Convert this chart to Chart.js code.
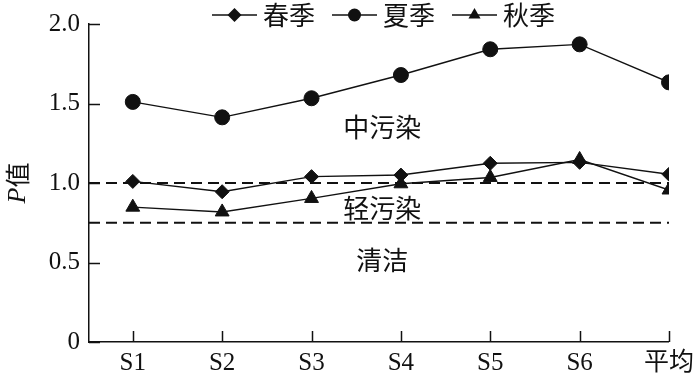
<!DOCTYPE html>
<html><head><meta charset="utf-8">
<script src="https://cdn.jsdelivr.net/npm/chart.js@4"></script>
<style>html,body{margin:0;padding:0;background:#fff}#wrap{width:700px;height:379px}</style>
</head><body><div id="wrap"><canvas id="c" width="700" height="379"></canvas></div>
<script>
const categories = ['S1', 'S2', 'S3', 'S4', 'S5', 'S6', '平均'];
const spring = [1.01, 0.945, 1.04, 1.05, 1.124, 1.13, 1.055];
const summer = [1.51, 1.413, 1.533, 1.679, 1.841, 1.872, 1.633];
const autumn = [0.848, 0.818, 0.903, 0.995, 1.035, 1.148, 0.956];
const seriesNames = ['春季', '夏季', '秋季'];
const thresholds = [1.0, 0.75];
const zoneLabels = ['中污染', '轻污染', '清洁'];
const zoneValues = [1.35, 0.845, 0.515];
const zoneX = 2.79;
const yTicks = [0, 0.5, 1.0, 1.5, 2.0];

const X_MIN = -0.49, X_MAX = categories.length - 1;
const INK = '#111';
const serif = "'Liberation Serif', 'Noto Sans CJK SC', serif";
const cjk = "'Noto Sans CJK SC', sans-serif";

const toPts = arr => arr.map((v, i) => ({x: i, y: v}));
const styles = [
  {pointStyle: 'rectRot', radius: 7},
  {pointStyle: 'circle', radius: 7.5},
  {pointStyle: 'triangle', radius: 8}
];
const seriesData = [spring, summer, autumn];

const datasets = [];
thresholds.forEach(t => datasets.push({
  label: 'th' + t, data: [{x: X_MIN, y: t}, {x: X_MAX, y: t}],
  borderColor: INK, borderWidth: 2, borderDash: [11, 6], pointRadius: 0, order: 5, isRef: true
}));
seriesData.forEach((d, i) => datasets.push({
  label: seriesNames[i], data: toPts(d),
  borderColor: INK, borderWidth: 1.4, backgroundColor: INK,
  pointStyle: styles[i].pointStyle, pointRadius: styles[i].radius,
  pointBackgroundColor: INK, pointBorderColor: INK, pointBorderWidth: 1,
  tension: 0, order: 1
}));

function drawMarker(ctx, style, cx, cy, r) {
  ctx.beginPath();
  if (style === 'rectRot') {
    ctx.moveTo(cx, cy - r); ctx.lineTo(cx + r, cy); ctx.lineTo(cx, cy + r); ctx.lineTo(cx - r, cy);
  } else if (style === 'circle') {
    ctx.arc(cx, cy, r, 0, Math.PI * 2);
  } else {
    ctx.moveTo(cx, cy - r); ctx.lineTo(cx + r * 0.866, cy + r * 0.5); ctx.lineTo(cx - r * 0.866, cy + r * 0.5);
  }
  ctx.closePath(); ctx.fill();
}

const decor = {
  id: 'decor',
  afterDatasetsDraw(chart) {
    const ctx = chart.ctx, xs = chart.scales.x, ys = chart.scales.y, area = chart.chartArea;
    ctx.save();
    // inward tick marks
    ctx.strokeStyle = INK; ctx.lineWidth = 1.5;
    ctx.beginPath();
    yTicks.forEach(v => { const p = Math.round(ys.getPixelForValue(v)) + 0.5; ctx.moveTo(area.left, p); ctx.lineTo(area.left + 11, p); });
    categories.forEach((c, i) => { const p = Math.round(xs.getPixelForValue(i)) + 0.5; ctx.moveTo(p, area.bottom); ctx.lineTo(p, area.bottom - 11); });
    ctx.stroke();
    // zone labels
    ctx.fillStyle = INK; ctx.font = '26px ' + cjk; ctx.textAlign = 'center'; ctx.textBaseline = 'middle';
    zoneLabels.forEach((t, i) => ctx.fillText(t, xs.getPixelForValue(zoneX), ys.getPixelForValue(zoneValues[i])));
    // y title  P值
    ctx.save();
    ctx.translate(17, (area.top + area.bottom) / 2);
    ctx.rotate(-Math.PI / 2);
    ctx.textAlign = 'left'; ctx.textBaseline = 'middle';
    const fP = 'italic 26px ' + serif, fV = '25px ' + cjk;
    ctx.font = fP; const wP = ctx.measureText('P').width;
    ctx.font = fV; const wV = ctx.measureText('值').width;
    const start = -(wP + wV) / 2;
    ctx.font = fP; ctx.fillText('P', start, 1);
    ctx.font = fV; ctx.fillText('值', start + wP, 0);
    ctx.restore();
    // legend
    let lx = 212; const ly = 15;
    const series = chart.data.datasets.filter(d => !d.isRef);
    ctx.textAlign = 'left'; ctx.textBaseline = 'middle'; ctx.font = '26px ' + cjk;
    series.forEach((ds, i) => {
      ctx.strokeStyle = INK; ctx.lineWidth = 1.4;
      ctx.beginPath(); ctx.moveTo(lx, ly); ctx.lineTo(lx + 45, ly); ctx.stroke();
      ctx.fillStyle = INK;
      drawMarker(ctx, ds.pointStyle, lx + 22.5, ly, ds.pointStyle === 'circle' ? 6.5 : 7);
      ctx.fillText(ds.label, lx + 51, ly);
      lx += 51 + ctx.measureText(ds.label).width + 17;
    });
    ctx.restore();
  }
};

new Chart(document.getElementById('c'), {
  type: 'line',
  data: {datasets},
  options: {
    responsive: false, animation: false, devicePixelRatio: 1,
    layout: {padding: {top: 24, right: 28, left: 0, bottom: 0}},
    plugins: {legend: {display: false}, tooltip: {enabled: false}},
    scales: {
      x: {
        type: 'linear', min: X_MIN, max: X_MAX,
        afterBuildTicks: s => { s.ticks = categories.map((c, i) => ({value: i})); },
        afterFit: s => { s.height = 37; },
        ticks: {callback: v => categories[v], autoSkip: false, maxRotation: 0, color: INK, font: {family: serif, size: 25}, padding: 6},
        grid: {drawOnChartArea: false, drawTicks: false, tickLength: 0},
        border: {display: true, color: INK, width: 1.5}
      },
      y: {
        type: 'linear', min: 0, max: 2,
        afterBuildTicks: s => { s.ticks = yTicks.map(v => ({value: v})); },
        afterFit: s => { s.width = 89; },
        ticks: {callback: v => v === 0 ? '0' : v.toFixed(1), color: INK, font: {family: serif, size: 25}, padding: 9},
        grid: {drawOnChartArea: false, drawTicks: false, tickLength: 0},
        border: {display: true, color: INK, width: 1.5}
      }
    }
  },
  plugins: [decor]
});
</script></body></html>
